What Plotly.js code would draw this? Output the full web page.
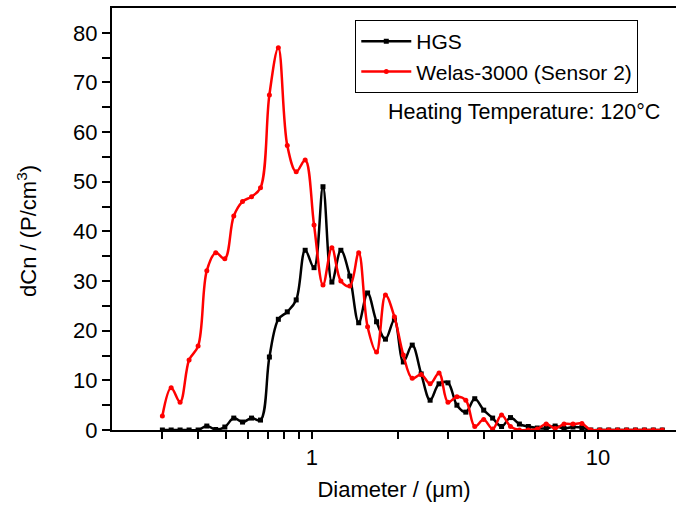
<!DOCTYPE html>
<html>
<head>
<meta charset="utf-8">
<script src="https://cdn.plot.ly/plotly-3.0.1.min.js"></script>
<style>html,body{margin:0;padding:0;background:#fff;}#chart{width:676px;height:509px;}</style>
</head>
<body>
<div id="chart"></div>
<script>
// Diameter (µm)
const diameter = [0.300,0.322,0.346,0.372,0.400,0.429,0.461,0.496,0.533,0.572,0.615,0.661,0.710,0.763,0.820,0.881,0.947,1.017,1.093,1.174,1.262,1.356,1.457,1.565,1.682,1.807,1.942,2.087,2.242,2.409,2.589,2.782,2.989,3.212,3.451,3.708,3.985,4.282,4.601,4.944,5.312,5.708,6.134,6.591,7.082,7.610,8.177,8.786,9.441,10.145,10.90,11.71,12.59,13.52,14.53,15.61,16.78];
// HGS dCn
const hgs = [0,0,0,0,0,0.8,0.1,0.6,2.4,1.6,2.4,2.0,14.7,22.3,23.8,26.2,36.2,32.7,49,29.8,36.2,31,21.6,27.6,21.8,18.3,22.2,13.7,17.1,11.3,6,9.3,9.5,5,3.6,6.3,4,2.4,0.7,2.5,1.2,0.7,0.4,0.3,0.8,0.3,0.6,0.5,0,0,0,0,0,0,0,0,0];
// Welas-3000 (Sensor 2) dCn
const welas = [2.8,8.5,5.6,14.1,16.9,32.1,35.7,34.5,43.1,46,47,48.8,67.5,77,57.3,52,54.4,41.3,29.2,36.7,30,29,35.7,20.8,15.7,27.2,22.8,15.1,10.4,11.2,9.3,11.5,5.6,6.7,6.0,0.7,2.1,0.2,3.0,0.7,0,0,0.2,1.2,0.3,1.2,1.2,1.3,0,0,0,0,0,0,0,0,0];
const seriesNames = ["HGS", "Welas-3000 (Sensor 2)"];
// tick positions / labels
const xTickVals = [0.3,0.4,0.5,0.6,0.7,0.8,0.9,1,2,3,4,5,6,7,8,9,10];
const xTickText = ["","","","","","","","1","","","","","","","","","10"];
const yTickVals = [0,5,10,15,20,25,30,35,40,45,50,55,60,65,70,75,80];
const yTickText = ["0","","10","","20","","30","","40","","50","","60","","70","","80"];

const FONT = "Liberation Sans, Arial, sans-serif";
const XR = [Math.log10(0.2), 1.2727];

const traces = [
  {x: diameter, y: hgs, name: seriesNames[0], type: "scatter", mode: "lines+markers",
   line: {color: "#000000", width: 2.5, shape: "spline", smoothing: 1},
   marker: {symbol: "square", size: 5, color: "#000000"}},
  {x: diameter, y: welas, name: seriesNames[1], type: "scatter", mode: "lines+markers",
   line: {color: "#ff0000", width: 2.5, shape: "spline", smoothing: 1},
   marker: {symbol: "circle", size: 5, color: "#ff0000"}}
];

const layout = {
  width: 676, height: 509,
  margin: {l: 112, r: 0, t: 8, b: 79},
  paper_bgcolor: "#ffffff", plot_bgcolor: "#ffffff",
  font: {family: FONT, size: 22, color: "#000"},
  showlegend: true,
  legend: {x: 0.431, y: 0.972, xanchor: "left", yanchor: "top",
           bordercolor: "#000", borderwidth: 1.2, bgcolor: "#fff",
           font: {family: FONT, size: 21, color: "#000"},
           tracegroupgap: 0, itemwidth: 50},
  xaxis: {type: "log", range: XR, tickmode: "array", tickvals: xTickVals, ticktext: xTickText,
          showgrid: false, zeroline: false,
          showline: true, linecolor: "#000", linewidth: 2, mirror: true,
          ticks: "outside", ticklen: 7, tickwidth: 2, tickcolor: "#000000",
          tickfont: {family: FONT, size: 22},
          title: {text: "Diameter / (\u03bcm)", font: {family: FONT, size: 22}, standoff: 12}},
  yaxis: {range: [0, 85], tickmode: "array", tickvals: yTickVals, ticktext: yTickText,
          showgrid: false, zeroline: false,
          showline: true, linecolor: "#000", linewidth: 2, mirror: false,
          ticks: "outside", ticklen: 8, tickwidth: 2, tickcolor: "#000000",
          tickfont: {family: FONT, size: 22}},
  annotations: [
    {xref: "paper", yref: "paper", x: 0.975, y: 0.754, xanchor: "right", yanchor: "middle",
     text: "Heating Temperature: 120\u00b0C", showarrow: false,
     font: {family: FONT, size: 21.5, color: "#000"}},
    {xref: "paper", yref: "paper", x: -0.1507, y: 0.4716, xanchor: "center", yanchor: "middle",
     textangle: -90, text: "dCn / (P/cm<sup>3</sup>)", showarrow: false,
     font: {family: FONT, size: 22, color: "#000"}}
  ]
};

Plotly.newPlot("chart", traces, layout, {displayModeBar: false});
</script>
</body>
</html>
